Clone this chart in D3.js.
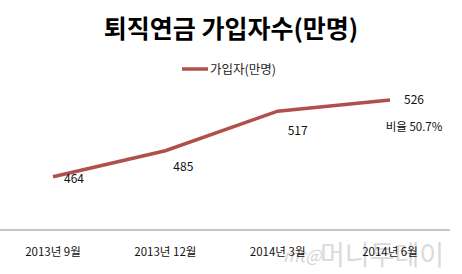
<!DOCTYPE html>
<html>
<head>
<meta charset="utf-8">
<script src="https://cdn.jsdelivr.net/npm/d3@7"></script>
<style>
  body { margin: 0; background: #fff; }
  text { font-family: "Noto Sans CJK KR", "Noto Sans", sans-serif; }
</style>
</head>
<body>
<div id="chart"></div>
<script>
const categories = ["2013년 9월", "2013년 12월", "2014년 3월", "2014년 6월"];
const values = [464, 485, 517, 526];
const seriesName = "가입자(만명)";
const title = "퇴직연금 가입자수(만명)";
const note = "비율 50.7%";

const width = 462, height = 274;

const svg = d3.select("#chart").append("svg")
  .attr("width", width)
  .attr("height", height);

svg.append("rect").attr("width", width).attr("height", height).attr("fill", "#fff");

const x = d3.scalePoint()
  .domain(categories)
  .range([53, 390]);

const y = d3.scaleLinear()
  .domain([421, 526])
  .range([230, 100]);

// title
svg.append("text")
  .attr("x", 231)
  .attr("y", 38)
  .attr("text-anchor", "middle")
  .style("font-size", "25px")
  .style("font-weight", "bold")
  .style("fill", "#000")
  .text(title);

// legend
svg.append("line")
  .attr("x1", 182).attr("x2", 208)
  .attr("y1", 69).attr("y2", 69)
  .attr("stroke", "#b0504d")
  .attr("stroke-width", 3.5);

svg.append("text")
  .attr("x", 210)
  .attr("y", 74)
  .style("font-size", "12.5px")
  .style("fill", "#222")
  .text(seriesName);

// axis line
svg.append("line")
  .attr("x1", 0).attr("x2", 450)
  .attr("y1", y(421)).attr("y2", y(421))
  .attr("stroke", "#8c8c8c")
  .attr("stroke-width", 1);

// watermark (drawn under the labels)
svg.append("text")
  .attr("x", 283)
  .attr("y", 262)
  .style("font-size", "17px")
  .style("font-style", "italic")
  .style("fill", "#d6d6d6")
  .text("mt@");

svg.append("text")
  .attr("x", 320)
  .attr("y", 265)
  .style("font-size", "27px")
  .style("fill", "#dadada")
  .text("머니투데이");

// category labels
svg.selectAll(".cat")
  .data(categories)
  .enter().append("text")
  .attr("class", "cat")
  .attr("x", d => x(d))
  .attr("y", 256)
  .attr("text-anchor", "middle")
  .style("font-size", "11.5px")
  .style("fill", "#111")
  .text(d => d);

// line
const line = d3.line()
  .x((d, i) => x(categories[i]))
  .y(d => y(d));

svg.append("path")
  .datum(values)
  .attr("fill", "none")
  .attr("stroke", "#b0504d")
  .attr("stroke-width", 3.5)
  .attr("d", line);

// value labels
const offsets = [[21, 6], [18, 20], [20, 24], [24, 4]];
svg.selectAll(".val")
  .data(values)
  .enter().append("text")
  .attr("class", "val")
  .attr("x", (d, i) => x(categories[i]) + offsets[i][0])
  .attr("y", (d, i) => y(d) + offsets[i][1])
  .attr("text-anchor", "middle")
  .style("font-size", "12px")
  .style("fill", "#111")
  .text(d => d);

svg.append("text")
  .attr("x", x(categories[3]) + 24)
  .attr("y", y(values[3]) + 31)
  .attr("text-anchor", "middle")
  .style("font-size", "11.5px")
  .style("fill", "#111")
  .text(note);
</script>
</body>
</html>
